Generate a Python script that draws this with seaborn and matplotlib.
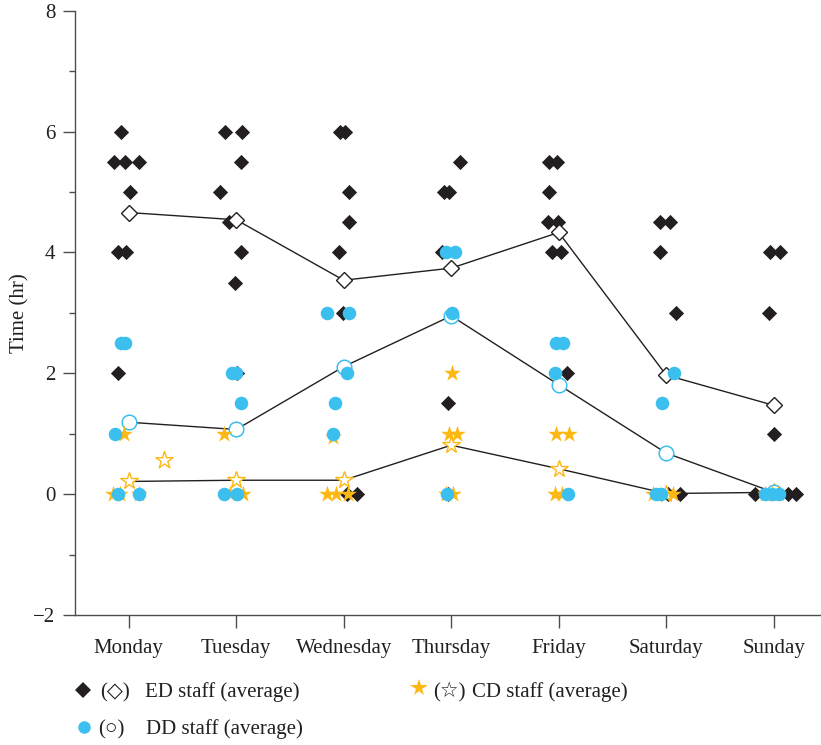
import numpy as np
import pandas as pd
import matplotlib
matplotlib.use("Agg")
import matplotlib.pyplot as plt
from matplotlib.lines import Line2D
from matplotlib.ticker import MultipleLocator
import seaborn as sns

# ---------------- data ----------------
days = ["Monday", "Tuesday", "Wednesday", "Thursday", "Friday", "Saturday", "Sunday"]

# ED staff: individual times per day (hr)
ed_counts = [8, 8, 8, 6, 8, 6, 7]
ed_time = [6.0, 5.5, 5.5, 5.5, 5.0, 4.0, 4.0, 2.0,
           6.0, 6.0, 5.5, 5.0, 4.5, 4.0, 3.5, 2.0,
           6.0, 6.0, 5.0, 4.5, 4.0, 3.0, 0.0, 0.0,
           5.5, 5.0, 5.0, 4.0, 1.5, 0.0,
           5.5, 5.5, 5.0, 4.5, 4.5, 4.0, 4.0, 2.0,
           4.5, 4.5, 4.0, 3.0, 0.0, 0.0,
           4.0, 4.0, 3.0, 1.0, 0.0, 0.0, 0.0]
ed_mean = [4.66, 4.54, 3.54, 3.74, 4.33, 1.97, 1.47]

# DD staff
dd_counts = [5, 5, 5, 4, 4, 4, 3]
dd_time = [2.5, 2.5, 1.0, 0.0, 0.0,
           2.0, 2.0, 1.5, 0.0, 0.0,
           3.0, 3.0, 2.0, 1.5, 1.0,
           4.0, 4.0, 3.0, 0.0,
           2.5, 2.5, 2.0, 0.0,
           2.0, 1.5, 0.0, 0.0,
           0.0, 0.0, 0.0]
dd_mean = [1.19, 1.07, 2.11, 2.95, 1.81, 0.68, 0.03]

# CD staff
cd_counts = [4, 3, 4, 5, 4, 2, 3]
cd_time = [1.0, 0.0, 0.0, 0.0,
           1.0, 0.0, 0.0,
           0.95, 0.0, 0.0, 0.0,
           2.0, 1.0, 1.0, 0.0, 0.0,
           1.0, 1.0, 0.0, 0.0,
           0.0, 0.0,
           0.0, 0.0, 0.0]
cd_mean = [0.21, 0.23, 0.23, 0.81, 0.42, 0.01, 0.03]
cd_extra_day = ["Monday"]
cd_extra_time = [0.57]

# horizontal scatter of the points within each day (day units)
ed_jitter = [-0.068, -0.137, -0.037, 0.096, 0.016, -0.100, -0.021, -0.100,
             -0.100, 0.049, 0.043, -0.153, -0.066, 0.043, -0.007, 0.003,
             -0.035, 0.011, 0.048, 0.048, -0.042, -0.010, 0.027, 0.120,
             0.082, -0.067, -0.020, -0.088, -0.027, -0.027,
             -0.087, -0.018, -0.087, -0.096, -0.003, -0.064, 0.020, 0.075,
             -0.056, 0.037, -0.056, 0.090, 0.021, 0.130,
             -0.032, 0.055, -0.041, 0.000, -0.171, 0.136, 0.210]
dd_jitter = [-0.074, -0.037, -0.130, -0.100, 0.093,
             -0.041, 0.000, 0.040, -0.113, 0.003,
             -0.159, 0.048, 0.033, -0.082, -0.098,
             -0.048, 0.035, 0.005, -0.042,
             -0.024, 0.041, -0.034, 0.090,
             0.068, -0.040, -0.098, -0.051,
             -0.084, -0.019, 0.047]
cd_jitter = [-0.044, -0.149, -0.084, 0.093,
             -0.115, -0.060, 0.059,
             -0.098, -0.159, -0.073, 0.036,
             0.010, -0.018, 0.051, 0.020, -0.047,
             -0.024, 0.100, -0.034, 0.029,
             -0.121, 0.065,
             -0.016, -0.078, 0.043]
cd_extra_jitter = [0.33]

# ---------------- style ----------------
ED_COLOR = "#231f20"
DD_COLOR = "#3bbfef"
CD_COLOR = "#fdb813"
LINE_COLOR = "#231f20"
AXIS_COLOR = "#4d4d4d"
TEXT_COLOR = "#231f20"

sns.set_style("ticks")
plt.rcParams["font.family"] = ["Liberation Serif", "DejaVu Sans"]
plt.rcParams["axes.unicode_minus"] = True

W, H = 821, 745
fig = plt.figure(figsize=(W / 100, H / 100), dpi=100)
ax = fig.add_axes([75 / W, 1 - 615 / H, (W - 75) / W, (615 - 10.7) / H])


def frame(counts, times, jitter):
    pos = np.repeat(np.arange(len(days)), counts) + np.asarray(jitter)
    return pd.DataFrame({"pos": pos, "time": times})


ed_df = frame(ed_counts, ed_time, ed_jitter)
dd_df = frame(dd_counts, dd_time, dd_jitter)
cd_df = frame(cd_counts, cd_time, cd_jitter)
mean_df = pd.DataFrame({"pos": np.arange(len(days)), "ed": ed_mean,
                        "dd": dd_mean, "cd": cd_mean})
extra_df = pd.DataFrame({"pos": [days.index(d) for d in cd_extra_day]
                         + np.asarray(cd_extra_jitter),
                         "time": cd_extra_time})

# individual ED times
sns.scatterplot(data=ed_df, x="pos", y="time", marker="D", s=60,
                color=ED_COLOR, linewidth=0, zorder=2, ax=ax, legend=False)

# daily averages
sns.lineplot(data=mean_df, x="pos", y="ed", color=LINE_COLOR, lw=1.0,
             marker="D", markersize=8.5, markerfacecolor="white",
             markeredgecolor=ED_COLOR, markeredgewidth=1.0, zorder=3, ax=ax)
sns.lineplot(data=mean_df, x="pos", y="cd", color=LINE_COLOR, lw=1.0,
             marker="*", markersize=13, markerfacecolor="white",
             markeredgecolor=CD_COLOR, markeredgewidth=1.0, zorder=3, ax=ax)
sns.lineplot(data=mean_df, x="pos", y="dd", color=LINE_COLOR, lw=1.0,
             marker="o", markersize=10.5, markerfacecolor="white",
             markeredgecolor=DD_COLOR, markeredgewidth=1.1, zorder=3, ax=ax)
sns.scatterplot(data=extra_df, x="pos", y="time", marker="*", s=169,
                facecolor="white", edgecolor=CD_COLOR, linewidth=1.0,
                zorder=3, ax=ax, legend=False)

# individual CD and DD times
sns.scatterplot(data=cd_df, x="pos", y="time", marker="*", s=160,
                color=CD_COLOR, linewidth=0, zorder=4, ax=ax, legend=False)
sns.scatterplot(data=dd_df, x="pos", y="time", marker="o", s=95,
                color=DD_COLOR, linewidth=0, zorder=5, ax=ax, legend=False)

# ---------------- axes ----------------
ax.set_xlim(-0.5, 6.44)
ax.set_ylim(-2, 8)
ax.set_xticks(np.arange(len(days)))
ax.set_xticklabels(days)
ax.set_yticks([-2, 0, 2, 4, 6, 8])
ax.yaxis.set_minor_locator(MultipleLocator(1))
ax.set_xlabel("")
ax.set_ylabel("Time (hr)", fontsize=15, color=TEXT_COLOR, labelpad=3)

ax.tick_params(axis="both", which="major", direction="out", length=9,
               width=1.0, color=AXIS_COLOR, labelsize=15,
               labelcolor=TEXT_COLOR)
ax.tick_params(axis="x", which="major", pad=8)
ax.tick_params(axis="y", which="major", pad=5)
ax.tick_params(axis="y", which="minor", direction="out", length=4,
               width=1.0, color=AXIS_COLOR)
for side in ("top", "right"):
    ax.spines[side].set_visible(False)
for side in ("left", "bottom"):
    ax.spines[side].set_linewidth(1.0)
    ax.spines[side].set_color(AXIS_COLOR)

# ---------------- legend ----------------
def fx(px):
    return px / W


def fy(py):
    return 1 - py / H


legend_rows = [
    (83, 690, "D", ED_COLOR, 8, "(\u25c7)", 100, "ED staff (average)", 145, 697),
    (419, 688, "*", CD_COLOR, 13, "(\u2606)", 433, "CD staff (average)", 472, 697),
    (84, 727, "o", DD_COLOR, 9, "(\u25cb)", 98, "DD staff (average)", 146, 734),
]
for mx, my, mk, col, ms, sym, sx, label, tx, base in legend_rows:
    fig.add_artist(Line2D([fx(mx)], [fy(my)], transform=fig.transFigure,
                          marker=mk, markersize=ms, color=col, linestyle="none",
                          markeredgewidth=0))
    fig.text(fx(sx), fy(base), sym, fontsize=15, color=TEXT_COLOR,
             ha="left", va="baseline")
    fig.text(fx(tx), fy(base), label, fontsize=15, color=TEXT_COLOR,
             ha="left", va="baseline")

fig.savefig("out.png", dpi=100)
